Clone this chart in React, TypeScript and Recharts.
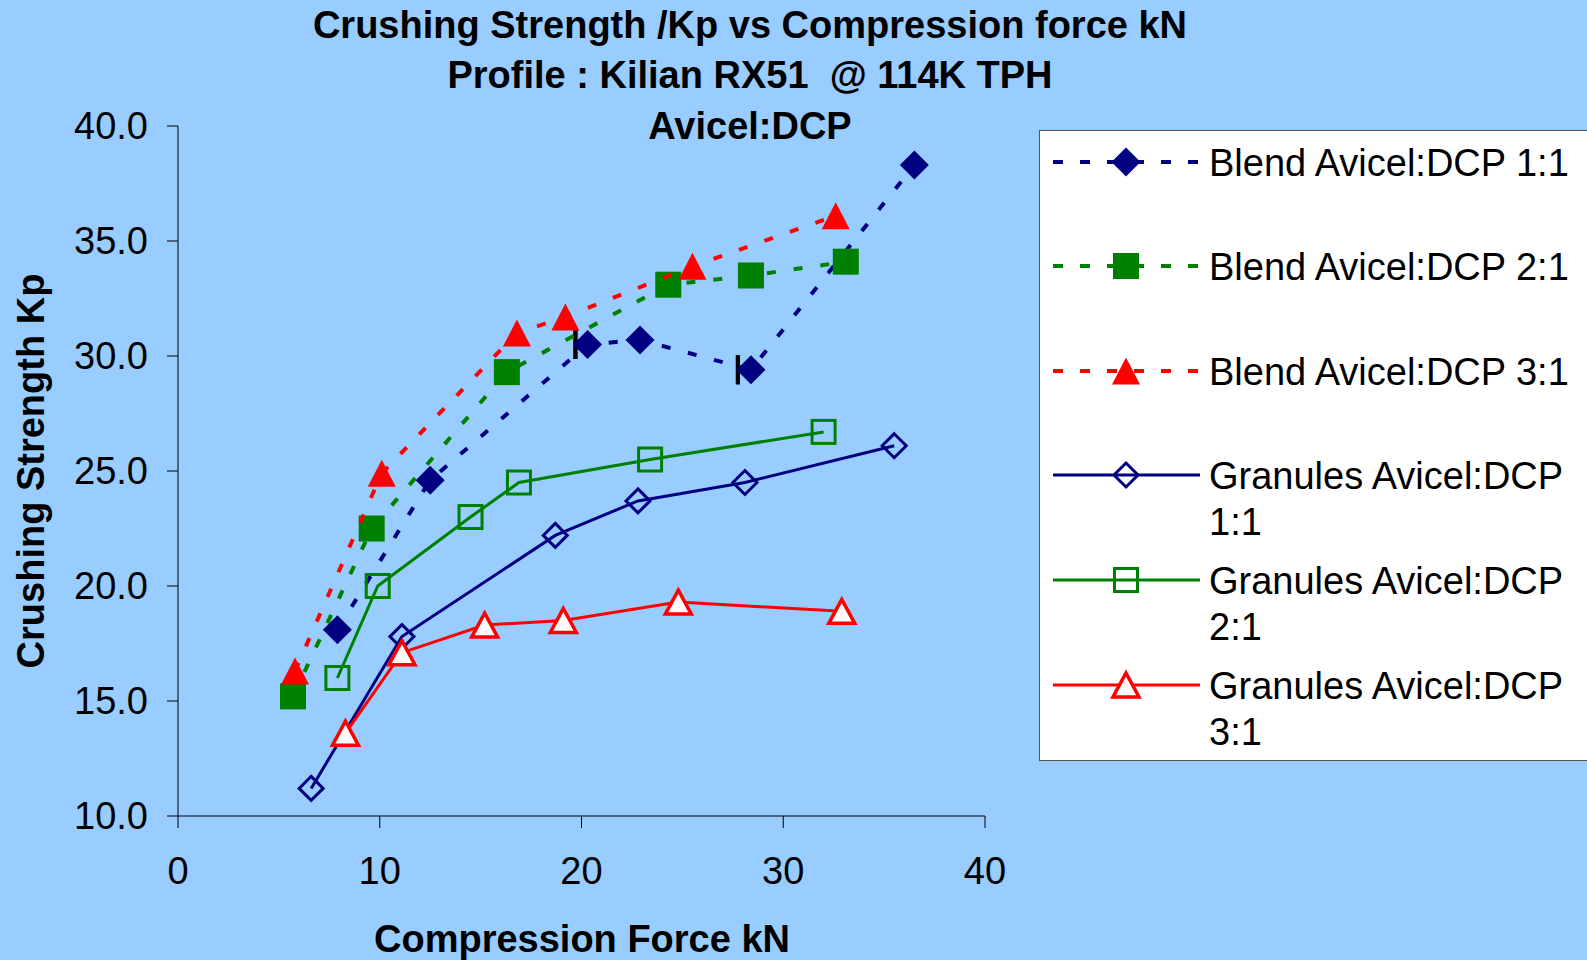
import React from 'react';
import { ScatterChart, Scatter, XAxis, YAxis, ErrorBar } from 'recharts';

const FONT = '"Liberation Sans", Arial, sans-serif';
const BG = '#99CCFF';

const xTicks = [0, 10, 20, 30, 40];
const yTicks = [10, 15, 20, 25, 30, 35, 40];

const blend11X = [7.9, 12.5, 20.3, 22.9, 28.4, 36.5];
const blend11Y = [18.1, 24.6, 30.5, 30.7, 29.4, 38.3];
const blend11Err = [null, null, 0.6, null, 0.65, null];

const blend21X = [5.7, 9.6, 16.3, 24.3, 28.4, 33.1];
const blend21Y = [15.2, 22.5, 29.3, 33.1, 33.5, 34.1];

const blend31X = [5.8, 10.1, 16.8, 19.2, 25.5, 32.6];
const blend31Y = [16.3, 24.9, 31.0, 31.7, 33.9, 36.1];

const gran11X = [6.6, 11.1, 18.7, 22.8, 28.1, 35.5];
const gran11Y = [11.2, 17.8, 22.2, 23.7, 24.5, 26.1];

const gran21X = [7.9, 9.9, 14.5, 16.9, 23.4, 32.0];
const gran21Y = [16.0, 20.0, 23.0, 24.5, 25.5, 26.7];

const gran31X = [8.3, 11.1, 15.2, 19.1, 24.8, 32.9];
const gran31Y = [13.6, 17.1, 18.3, 18.5, 19.3, 18.9];

const toPoints = (xs: number[], ys: number[]) => xs.map((x, i) => ({ x, y: ys[i] }));

// minus-only x error bars: both bounds at x - err, so only the left cap shows
const errPoints = blend11X
  .map((x, i) => ({ x, y: blend11Y[i], err: blend11Err[i] }))
  .filter((p) => p.err != null)
  .map((p) => ({ x: p.x, y: p.y, err: [p.err as number, -(p.err as number)] }));

type Kind = 'diamond' | 'square' | 'triangle';

const series = [
  { name: 'Blend Avicel:DCP 1:1', lines: ['Blend Avicel:DCP 1:1'], data: toPoints(blend11X, blend11Y), color: '#000080', kind: 'diamond' as Kind, filled: true, dashed: true },
  { name: 'Blend Avicel:DCP 2:1', lines: ['Blend Avicel:DCP 2:1'], data: toPoints(blend21X, blend21Y), color: '#008000', kind: 'square' as Kind, filled: true, dashed: true },
  { name: 'Blend Avicel:DCP 3:1', lines: ['Blend Avicel:DCP 3:1'], data: toPoints(blend31X, blend31Y), color: '#FF0000', kind: 'triangle' as Kind, filled: true, dashed: true },
  { name: 'Granules Avicel:DCP 1:1', lines: ['Granules Avicel:DCP', '1:1'], data: toPoints(gran11X, gran11Y), color: '#000080', kind: 'diamond' as Kind, filled: false, dashed: false },
  { name: 'Granules Avicel:DCP 2:1', lines: ['Granules Avicel:DCP', '2:1'], data: toPoints(gran21X, gran21Y), color: '#008000', kind: 'square' as Kind, filled: false, dashed: false },
  { name: 'Granules Avicel:DCP 3:1', lines: ['Granules Avicel:DCP', '3:1'], data: toPoints(gran31X, gran31Y), color: '#FF0000', kind: 'triangle' as Kind, filled: false, dashed: false },
];

const Marker = ({ kind, cx, cy, color, filled }: { kind: Kind; cx: number; cy: number; color: string; filled: boolean }) => {
  if (cx == null || cy == null) return null;
  const sw = filled ? 0 : 3;
  if (kind === 'diamond') {
    const h = filled ? 14.5 : 12;
    return (
      <polygon
        points={`${cx},${cy - h} ${cx + h},${cy} ${cx},${cy + h} ${cx - h},${cy}`}
        fill={filled ? color : 'none'}
        stroke={color}
        strokeWidth={sw}
        strokeLinejoin="miter"
      />
    );
  }
  if (kind === 'square') {
    const h = filled ? 13 : 11.5;
    return (
      <rect x={cx - h} y={cy - h} width={h * 2} height={h * 2} fill={filled ? color : 'none'} stroke={color} strokeWidth={sw} />
    );
  }
  const w = filled ? 14 : 13;
  const h = filled ? 13.5 : 12;
  return (
    <polygon
      points={`${cx},${cy - h} ${cx + w},${cy + h} ${cx - w},${cy + h}`}
      fill={filled ? color : '#FFFFFF'}
      stroke={color}
      strokeWidth={filled ? 0 : 3.5}
      strokeLinejoin="miter"
    />
  );
};

const legendRows = [162, 266, 371, 475, 580, 685];

const Legend = () => (
  <div
    style={{
      position: 'absolute',
      left: 1039,
      top: 130,
      width: 560,
      height: 629,
      background: '#FFFFFF',
      border: '1px solid #555555',
    }}
  >
    <svg width={560} height={629} style={{ position: 'absolute', left: -1, top: -1 }}>
      {series.map((s, i) => {
        const cy = legendRows[i] - 130;
        return (
          <g key={s.name}>
            <line
              x1={14}
              x2={161}
              y1={cy}
              y2={cy}
              stroke={s.color}
              strokeWidth={s.dashed ? 4 : 3}
              strokeDasharray={s.dashed ? '10 17' : undefined}
            />
            <Marker kind={s.kind} cx={87} cy={cy} color={s.color} filled={s.filled} />
            {s.lines.map((t, j) => (
              <text key={j} x={170} y={cy + 13.6 + j * 46} fontSize={38} fontFamily={FONT} fill="#000">
                {t}
              </text>
            ))}
          </g>
        );
      })}
    </svg>
  </div>
);

export default function App() {
  return (
    <div style={{ position: 'absolute', left: 0, top: 0, width: 1587, height: 960, overflow: 'hidden', background: BG }}>
      <ScatterChart width={1587} height={960} margin={{ top: 126, right: 602, bottom: 0, left: 0 }}>
        <XAxis
          type="number"
          dataKey="x"
          domain={[0, 40]}
          ticks={xTicks}
          height={144}
          tickSize={12}
          tickMargin={29}
          stroke="#000"
          tick={{ fill: '#000', fontSize: 38, fontFamily: FONT }}
          allowDataOverflow
        />
        <YAxis
          type="number"
          dataKey="y"
          domain={[10, 40]}
          ticks={yTicks}
          width={178}
          tickSize={11}
          tickMargin={19}
          stroke="#000"
          tickFormatter={(v: number) => v.toFixed(1)}
          tick={{ fill: '#000', fontSize: 38, fontFamily: FONT }}
          allowDataOverflow
        />
        <Scatter
          name="errors"
          data={errPoints}
          isAnimationActive={false}
          shape={() => <g />}
          legendType="none"
        >
          <ErrorBar dataKey="err" direction="x" width={14.5} stroke="#000" strokeWidth={4} />
        </Scatter>
        {series.map((s) => (
          <Scatter
            key={s.name}
            name={s.name}
            data={s.data}
            isAnimationActive={false}
            line={{ stroke: s.color, strokeWidth: s.dashed ? 4 : 3, strokeDasharray: s.dashed ? '9 18' : undefined }}
            lineType="joint"
            shape={(p: any) => <Marker kind={s.kind} cx={p.cx} cy={p.cy} color={s.color} filled={s.filled} />}
          />
        ))}
      </ScatterChart>

      <svg width={1587} height={960} style={{ position: 'absolute', left: 0, top: 0, pointerEvents: 'none' }}>
        <g fontFamily={FONT} fontWeight="bold" fontSize={38} fill="#000" textAnchor="middle">
          <text x={750} y={38}>Crushing Strength /Kp vs Compression force kN</text>
          <text x={750} y={88} style={{ whiteSpace: 'pre' }}>Profile : Kilian RX51  @ 114K TPH</text>
          <text x={750} y={139}>Avicel:DCP</text>
          <text x={582} y={952}>Compression Force kN</text>
          <text x={30} y={471} transform="rotate(-90 30 471)" dy="0.36em">Crushing Strength Kp</text>
        </g>
      </svg>

      <Legend />
    </div>
  );
}
